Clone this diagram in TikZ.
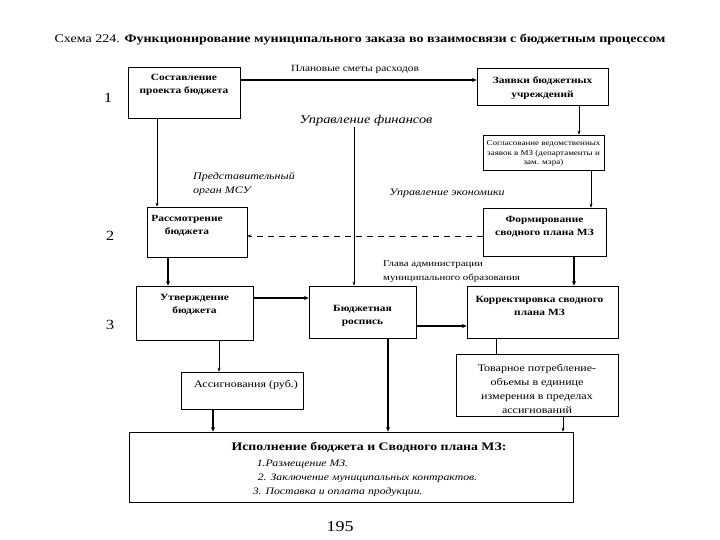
\documentclass[tikz,border=0pt]{standalone}
\usepackage{fontspec}
\setmainfont[FakeStretch=1.2]{Liberation Serif}
\usetikzlibrary{arrows.meta}

\begin{document}
\begin{tikzpicture}[x=1pt, y=-1pt,
	box/.style={draw, line width=0.7pt, inner sep=0pt},
	btext/.style={font=\fontsize{9.5}{13.5}\selectfont\bfseries, align=center, anchor=north, inner sep=0pt},
	ntext/.style={font=\fontsize{9.5}{14}\selectfont, align=center, inner sep=0pt},
	itext/.style={font=\fontsize{10}{14}\selectfont\itshape, align=left, inner sep=0pt},
	num/.style={font=\fontsize{14}{14}\selectfont, inner sep=0pt},
	arr/.style={-{Stealth[length=4pt,width=3pt]}, line width=0.6pt},
	fatarr/.style={-{Stealth[length=4.5pt,width=4pt]}, line width=1.6pt}]

	\useasboundingbox (0,0) rectangle (720,540);

	\foreach \name/\cx/\cy/\w/\h in {sost/184/92.5/112/51, zayav/542.5/86.5/131/37,
		soglas/543.5/152.5/121/35, rassm/197/232/100/50, form/544.5/232/123/48,
		utv/194.5/313/117/54, rosp/362.5/312/107/52, korr/542.5/312/151/52,
		tovar/537/385/162/62, assig/242/390.5/122/37, ispoln/351/467/444/70}
		\node[box, minimum width=\w, minimum height=\h] (\name) at (\cx,\cy) {};

	\node[font=\fontsize{11.7}{12}\selectfont, inner sep=0pt] (title) at (360,40)
		{Схема 224. \textbf{Функционирование муниципального заказа во взаимосвязи с бюджетным процессом}};

	\node[btext] (sostT) at ([yshift=-7pt]sost.north) {Составление\\проекта бюджета};
	\node[btext] (zayavT) at ([yshift=-9pt]zayav.north) {Заявки бюджетных\\учреждений};
	\node[ntext, font=\fontsize{7.5}{9.5}\selectfont, anchor=north] (soglasT) at ([yshift=-6pt]soglas.north)
		{Согласование ведомственных\\заявок в МЗ (департаменты и\\зам. мэра)};
	\node[btext] (rassmT) at ([xshift=-10pt, yshift=-8pt]rassm.north) {Рассмотрение\\бюджета};
	\node[btext] (formT) at ([yshift=-8pt]form.north) {Формирование\\сводного плана МЗ};
	\node[btext] (utvT) at ([yshift=-8pt]utv.north) {Утверждение\\бюджета};
	\node[btext, anchor=center] (rospT) at ([yshift=-4pt]rosp.center) {Бюджетная\\роспись};
	\node[btext] (korrT) at ([xshift=-3pt, yshift=-10pt]korr.north) {Корректировка сводного\\плана МЗ};
	\node[ntext, font=\fontsize{10}{14}\selectfont] (tovarT) at ([yshift=-4pt]tovar.center)
		{Товарное потребление-\\объемы в единице\\измерения в пределах\\ассигнований};
	\node[ntext, font=\fontsize{10}{14}\selectfont, anchor=north] (assigT) at ([xshift=4pt, yshift=-8pt]assig.north) {Ассигнования (руб.)};
	\node[btext, font=\fontsize{11.5}{13}\selectfont\bfseries] (ispolnT) at ([xshift=18pt, yshift=-10pt]ispoln.north)
		{Исполнение бюджета и Сводного плана МЗ:};
	\node[itext, font=\fontsize{9.8}{14}\selectfont\itshape, anchor=north west] (ispolnL) at ([xshift=124pt, yshift=-28pt]ispoln.north west)
		{\hspace*{4pt}1.Размещение МЗ.\\\hspace*{5pt}2. Заключение муниципальных контрактов.\\3. Поставка и оплата продукции.};

	\node[ntext] (plan) at (355,69) {Плановые сметы расходов};
	\node[itext, font=\fontsize{12}{14}\selectfont\itshape] (fin) at (366,121) {Управление финансов};
	\node[itext, anchor=north west] (predst) at (193,172) {Представительный\\орган МСУ};
	\node[itext] (econ) at (447,193) {Управление экономики};
	\node[ntext, font=\fontsize{9}{14}\selectfont, align=left, anchor=north west] (glava) at (383,260) {Глава администрации\\муниципального образования};

	\node[num] (n1) at (108,98) {1};
	\node[num] (n2) at (110,236) {2};
	\node[num] (n3) at (110,325) {3};
	\node[num, font=\fontsize{15}{15}\selectfont] (page) at (340,527) {195};

	\draw[fatarr] ([yshift=12.5pt]sost.east) -- ([yshift=12.5pt]sost.east -| zayav.west);
	\draw[arr] ([xshift=36.5pt]zayav.south) -- ([xshift=36.5pt]zayav.south |- soglas.north);
	\draw[arr] ([xshift=47.5pt]soglas.south) -- ([xshift=47.5pt]soglas.south |- form.north);
	\draw[arr] ([xshift=-27pt]sost.south) -- ([xshift=-27pt]sost.south |- rassm.north);
	\draw[arr, dashed, dash pattern=on 6pt off 5pt] ([yshift=-4pt]form.west) -- ([yshift=-4pt]form.west -| rassm.east);
	\draw[fatarr] ([xshift=-29pt]rassm.south) -- ([xshift=-29pt]rassm.south |- utv.north);
	\draw[fatarr] ([xshift=29.5pt]form.south) -- ([xshift=29.5pt]form.south |- korr.north);
	\draw[arr] ([xshift=-8.5pt]rosp.north |- fin.south) -- ([xshift=-8.5pt]rosp.north);
	\draw[fatarr] ([yshift=15pt]utv.east) -- ([yshift=15pt]utv.east -| rosp.west);
	\draw[fatarr] ([yshift=-14pt]rosp.east) -- ([yshift=-14pt]rosp.east -| korr.west);
	\draw[line width=0.7pt] ([xshift=-46.5pt]korr.south) -- ([xshift=-46.5pt]korr.south |- tovar.north);
	\draw[arr] ([xshift=24.5pt]utv.south) -- ([xshift=24.5pt]utv.south |- assig.north);
	\draw[fatarr] ([xshift=-29pt]assig.south) -- ([xshift=-29pt]assig.south |- ispoln.north);
	\draw[fatarr] ([xshift=25.5pt]rosp.south) -- ([xshift=25.5pt]rosp.south |- ispoln.north);
	\draw[arr] ([xshift=26pt]tovar.south) -- ([xshift=26pt]tovar.south |- ispoln.north);
\end{tikzpicture}
\end{document}
